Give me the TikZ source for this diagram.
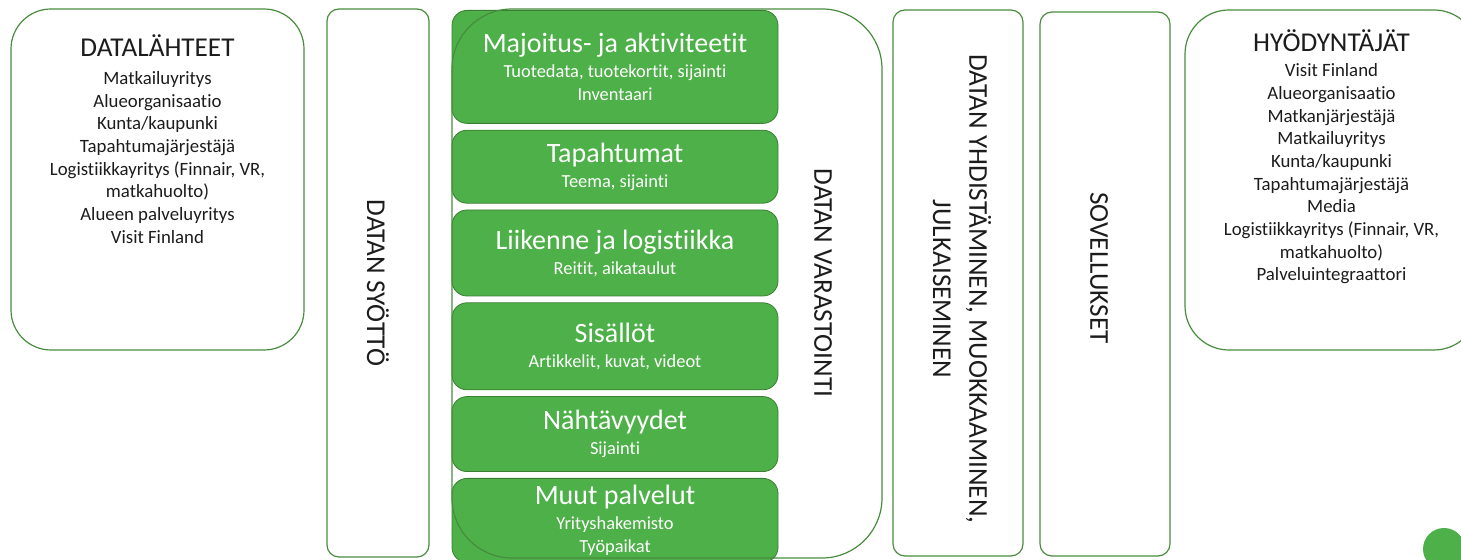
\documentclass[tikz,border=0pt]{standalone}
\usepackage{fontspec}
\setmainfont{Carlito}[Ligatures=NoCommon]
\usetikzlibrary{positioning}
\usetikzlibrary{fit}

\definecolor{panelgreen}{RGB}{72,140,62}
\definecolor{catgreen}{RGB}{78,176,72}
\definecolor{catedge}{RGB}{58,126,50}
\definecolor{inkgray}{RGB}{28,28,28}

\newcommand{\headfont}{\fontsize{13.6}{16.6}\selectfont}
\newcommand{\cattitlefont}{\fontsize{14}{17}\selectfont}
\newcommand{\listfont}{\fontsize{9.4}{11.35}\selectfont}
\newcommand{\subfont}{\fontsize{9.2}{11.5}\selectfont}

\begin{document}
\begin{tikzpicture}[x=0.5pt,y=-0.5pt,
panel/.style={draw=panelgreen, line width=0.6pt, inner sep=0pt},
catbox/.style={draw=catedge, fill=catgreen, rounded corners=7.5pt, text=white,
align=center, minimum width=163pt, inner sep=0pt, node distance=3pt, font=\subfont},
sidelabel/.style={rotate=-90, align=center, text=inkgray, font=\headfont},
headtext/.style={text=inkgray, font=\headfont, inner sep=0pt},
listtext/.style={text=inkgray, font=\listfont, align=center, inner sep=0pt}]
\useasboundingbox (0,0) rectangle (1461,560);

% data sources
\node[panel, rounded corners=20pt, fit={(11,9) (304,350)}] (sources) {};
\node[headtext, below=13pt of sources.north] (sourceshead) {DATALÄHTEET};
\node[listtext, below=7pt of sourceshead] (sourceslist) {Matkailuyritys\\
Alueorganisaatio\\ Kunta/kaupunki\\ Tapahtumajärjestäjä\\
Logistiikkayritys (Finnair, VR,\\ matkahuolto)\\ Alueen palveluyritys\\ Visit Finland};

% data input
\node[panel, rounded corners=6pt, fit={(327,9) (429,557)}] (input) {};
\node[sidelabel] (inputlabel) at (input.center) {DATAN SYÖTTÖ};

% storage categories
\node[catbox, minimum height=56.5pt, anchor=north] (lodging) at (615,10)
{{\cattitlefont Majoitus- ja aktiviteetit}\\[1pt] Tuotedata, tuotekortit, sijainti\\ Inventaari};
\node[catbox, minimum height=36.5pt] (events) [below=of lodging]
{{\cattitlefont Tapahtumat}\\[1pt] Teema, sijainti};
\node[catbox, minimum height=43pt] (traffic) [below=of events]
{{\cattitlefont Liikenne ja logistiikka}\\[1pt] Reitit, aikataulut};
\node[catbox, minimum height=43.5pt] (contents) [below=of traffic]
{{\cattitlefont Sisällöt}\\[1pt] Artikkelit, kuvat, videot};
\node[catbox, minimum height=37.5pt] (sights) [below=of contents]
{{\cattitlefont Nähtävyydet}\\[1pt] Sijainti};
\node[catbox, minimum height=42pt] (services) [below=of sights]
{{\cattitlefont Muut palvelut}\\[1pt] Yrityshakemisto\\ Työpaikat};

% data storage
\node[panel, rounded corners=30pt, fit={(452,9) (882,558)}] (storage) {};
\node[sidelabel] (storagelabel) at (823,283) {DATAN VARASTOINTI};

% combining and publishing
\node[panel, rounded corners=6pt, fit={(893,10) (1023,556)}] (combine) {};
\node[sidelabel] (combinelabel) at ([xshift=2pt,yshift=-3pt]combine.center)
{DATAN YHDISTÄMINEN, MUOKKAAMINEN,\\[1.5pt] JULKAISEMINEN};

% applications
\node[panel, rounded corners=6pt, fit={(1040,12) (1170,556)}] (apps) {};
\node[sidelabel] (appslabel) at ([xshift=-3pt,yshift=8pt]apps.center) {SOVELLUKSET};

% users
\node[panel, rounded corners=22pt, fit={(1185,10) (1478,350)}] (users) {};
\node[headtext, below=10pt of users.north] (usershead) {HYÖDYNTÄJÄT};
\node[listtext, below=5.5pt of usershead] (userslist) {Visit Finland\\
Alueorganisaatio\\ Matkanjärjestäjä\\ Matkailuyritys\\ Kunta/kaupunki\\
Tapahtumajärjestäjä\\ Media\\ Logistiikkayritys (Finnair, VR,\\ matkahuolto)\\
Palveluintegraattori};

\node[circle, fill=catgreen, minimum size=21pt, inner sep=0pt] (dot) at (1444,549) {};
\end{tikzpicture}
\end{document}
